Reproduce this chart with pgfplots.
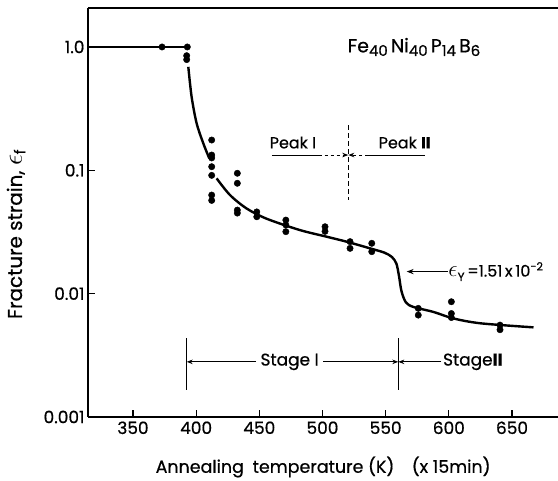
\documentclass[border=0pt]{standalone}
\usepackage{pgfplots}
\pgfplotsset{compat=1.18}
\usepackage{fontspec}
\setmainfont{Poppins}[FakeBold=0.6]
\usetikzlibrary{arrows.meta}
\newcommand{\eps}{\scalebox{1.35}{$\epsilon$}}
\begin{document}
\begin{tikzpicture}[x=1bp,y=1bp]
\begin{axis}[
  scale only axis, width=470bp, height=409bp,
  xmode=normal, ymode=log,
  xmin=314.4, xmax=686.4, ymin=0.001, ymax=2.07,
  axis x line*=box, axis y line*=left,
  axis line style={line width=1.6bp},
  xtick={350,400,...,650}, xtick pos=bottom,
  ytick={0.001,0.01,0.1,1}, yticklabels={0.001,0.01,0.1,1.0}, ytick pos=left,
  minor ytick={}, yminorticks=false,
  tick align=inside, major tick length=7bp,
  tick style={line width=1.2bp, black},
  /pgf/number format/assume math mode=true,
  /pgf/number format/set thousands separator={},
  tick label style={font=\fontsize{17}{19}\selectfont},
  xticklabel style={yshift=-1bp},
  yticklabel style={xshift=0bp},
  clip=false,
]
% fitted curve
\addplot[line width=2.4bp, black] coordinates {(314.4,1.0) (393,1.0)};
\addplot[line width=2.4bp, black, smooth] coordinates {
 (393.8,0.69) (396.4,0.395) (400.4,0.24) (405.6,0.166) (410.4,0.125)};
\addplot[line width=2.4bp, black, smooth, tension=0.5] coordinates {
 (416.2,0.086) (426.8,0.063) (440,0.049) (455.8,0.0405) (482,0.0328)
 (503,0.029) (519,0.0264) (537.6,0.0233) (549,0.0215) (555,0.0198)
 (558.5,0.0175) (560.5,0.0140) (562.5,0.0105) (566,0.0085) (572,0.0078)
 (588,0.0071) (603.5,0.0063) (625,0.00575) (667,0.00533)};
% data points
\addplot[only marks, mark=*, mark size=3.2bp, black] coordinates {
 (373,1.0) (393,1.0) (392.5,0.85) (392.5,0.79)
 (412.3,0.176) (412.3,0.133) (412.3,0.126) (412.3,0.107) (412.3,0.091)
 (412.3,0.063) (412.3,0.057)
 (432.6,0.0946) (432.6,0.0785) (432.6,0.0476) (432.6,0.045)
 (448,0.046) (448,0.042)
 (471,0.0395) (471,0.036) (471,0.0318)
 (502,0.0349) (502,0.032)
 (521.8,0.0264) (521.8,0.0233)
 (539,0.0256) (539,0.0219)
 (575.8,0.0076) (575.8,0.0067)
 (602,0.0086) (602,0.0069) (602,0.0064)
 (640.5,0.00556) (640.5,0.0051)};
% composition
\node[font=\fontsize{19}{21}\selectfont] at (axis cs:572.4,1.0)
 {Fe\raisebox{-0.35ex}{\fontsize{15}{17}\selectfont 40}\,Ni\raisebox{-0.35ex}{\fontsize{15}{17}\selectfont 40}\,P\raisebox{-0.35ex}{\fontsize{15}{17}\selectfont 14}\,B\raisebox{-0.35ex}{\fontsize{15}{17}\selectfont 6}};
% Peak I / Peak II
\draw[line width=1bp] (axis cs:460,0.133) -- (axis cs:497,0.133);
\draw[line width=1bp, dashed, -{Stealth[length=6bp]}] (axis cs:497,0.133) -- (axis cs:520.4,0.133);
\draw[line width=1bp, dashed, -{Stealth[length=6bp]}] (axis cs:536,0.133) -- (axis cs:520.4,0.133);
\draw[line width=1bp] (axis cs:536,0.133) -- (axis cs:581,0.133);
\draw[line width=1.3bp, dash pattern=on 5bp off 3bp] (axis cs:520.4,0.233) -- (axis cs:520.4,0.0574);
\node[font=\fontsize{16}{18}\selectfont] at (axis cs:476.6,0.168) {Peak {\rmfamily I}};
\node[font=\fontsize{16}{18}\selectfont] at (axis cs:565,0.168) {Peak {\rmfamily\bfseries II}};
% epsilon_Y arrow
\draw[line width=1bp, -{Stealth[length=7bp]}] (axis cs:599,0.0151) -- (axis cs:566.6,0.0151);
\node[anchor=west, inner sep=0pt, font=\fontsize{16}{18}\selectfont] at (axis cs:599.5,0.0151)
 {\eps\raisebox{-0.5ex}{\fontsize{12}{14}\selectfont Y}\,=1.51\,x\,10\textsuperscript{-2}};
% Stage I / Stage II
\draw[line width=1.2bp] (axis cs:392.5,0.00434) -- (axis cs:392.5,0.00165);
\draw[line width=1.2bp] (axis cs:560,0.00434) -- (axis cs:560,0.00165);
\draw[line width=1bp, -{Stealth[length=6bp]}] (axis cs:447.5,0.0028) -- (axis cs:392.5,0.0028);
\draw[line width=1bp, -{Stealth[length=6bp]}] (axis cs:500.4,0.0028) -- (axis cs:560,0.0028);
\draw[line width=1bp, -{Stealth[length=6bp]}] (axis cs:594,0.0028) -- (axis cs:560,0.0028);
\node[font=\fontsize{17}{19}\selectfont] at (axis cs:474,0.0028) {Stage {\rmfamily I}};
\node[font=\fontsize{17}{19}\selectfont] at (axis cs:619,0.0028) {Stage{\rmfamily\bfseries II}};
% axis labels
\node[rotate=90, font=\fontsize{20}{22}\selectfont] at ([xshift=-72bp]rel axis cs:0,0.447)
 {Fracture strain, \eps\raisebox{-0.3ex}{\fontsize{15}{17}\selectfont f}};
\node[font=\fontsize{17.5}{19}\selectfont] at ([yshift=-50bp]axis cs:500.5,0.001)
 {Annealing\enspace temperature (K)\quad (x 15min)};
\coordinate (sw) at (rel axis cs:0,0);
\coordinate (ne) at (rel axis cs:1,1);
\end{axis}
\pgfresetboundingbox
\path[use as bounding box] ([shift={(-88bp,-64bp)}]sw) rectangle ([shift={(0bp,8bp)}]ne);
\end{tikzpicture}
\end{document}
